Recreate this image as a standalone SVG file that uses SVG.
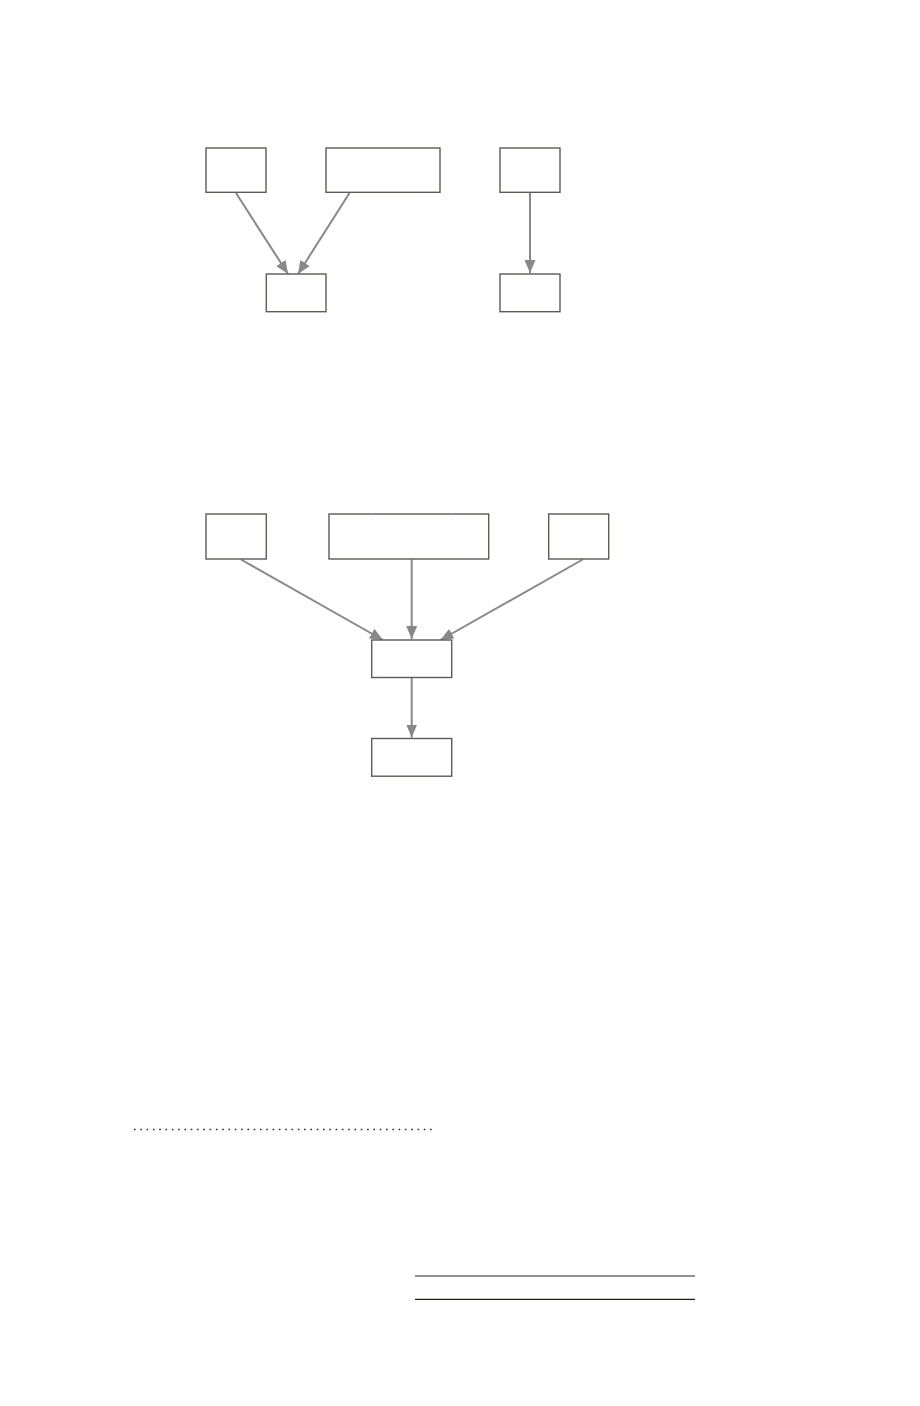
<svg xmlns="http://www.w3.org/2000/svg" width="920" height="1406" viewBox="0 0 920 1406">
<style>
.box{fill:#ffffff;stroke:#5f5b55;stroke-width:1.4}
.edge{stroke:#888888;stroke-width:2;fill:none}
</style>
<defs>
<marker id="ah" markerWidth="13" markerHeight="11" refX="13" refY="5.5" orient="auto" markerUnits="userSpaceOnUse">
<path d="M0,0 L13,5.5 L0,11 Z" fill="#888888"/>
</marker>
</defs>
<rect width="920" height="1406" fill="#ffffff"/>
<g id="connectors">
<line class="edge" x1="236" y1="193" x2="288" y2="274" marker-end="url(#ah)"/>
<line class="edge" x1="349.5" y1="193" x2="298" y2="274" marker-end="url(#ah)"/>
<line class="edge" x1="530" y1="193" x2="530" y2="273" marker-end="url(#ah)"/>
<line class="edge" x1="241" y1="559.5" x2="383" y2="640" marker-end="url(#ah)"/>
<line class="edge" x1="411.7" y1="559.5" x2="411.7" y2="639" marker-end="url(#ah)"/>
<line class="edge" x1="582.7" y1="559.5" x2="440.5" y2="640" marker-end="url(#ah)"/>
<line class="edge" x1="411.7" y1="678" x2="411.7" y2="737.5" marker-end="url(#ah)"/>
</g>
<g id="n1"><rect class="box" x="206" y="148" width="60" height="44.3"/></g>
<g id="n2"><rect class="box" x="326" y="148" width="114" height="44.3"/></g>
<g id="n3"><rect class="box" x="500" y="148" width="60" height="44.3"/></g>
<g id="n4"><rect class="box" x="266.3" y="274" width="59.7" height="37.7"/></g>
<g id="n5"><rect class="box" x="500" y="274" width="60" height="37.7"/></g>
<g id="n6"><rect class="box" x="206" y="514" width="60.3" height="45"/></g>
<g id="n7"><rect class="box" x="329" y="514" width="159.7" height="45"/>
<line x1="371.7" y1="514" x2="371.7" y2="516" stroke="#c8c6c2" stroke-width="0.8"/>
<line x1="451.7" y1="514" x2="451.7" y2="516" stroke="#c8c6c2" stroke-width="0.8"/></g>
<g id="n8"><rect class="box" x="548.7" y="514" width="60" height="45"/></g>
<g id="n9"><rect class="box" x="371.7" y="640" width="80" height="37.5"/></g>
<g id="n10"><rect class="box" x="371.7" y="738.5" width="80" height="37.7"/></g>
<g id="rules">
<line x1="134" y1="1129.5" x2="435" y2="1129.5" stroke="#2e2a24" stroke-width="1.6" stroke-dasharray="1.6 4.7"/>
<line x1="415" y1="1276" x2="695" y2="1276" stroke="#6f6f6f" stroke-width="1.3"/>
<line x1="415" y1="1299.3" x2="695" y2="1299.3" stroke="#222018" stroke-width="1.2"/>
</g>
</svg>
